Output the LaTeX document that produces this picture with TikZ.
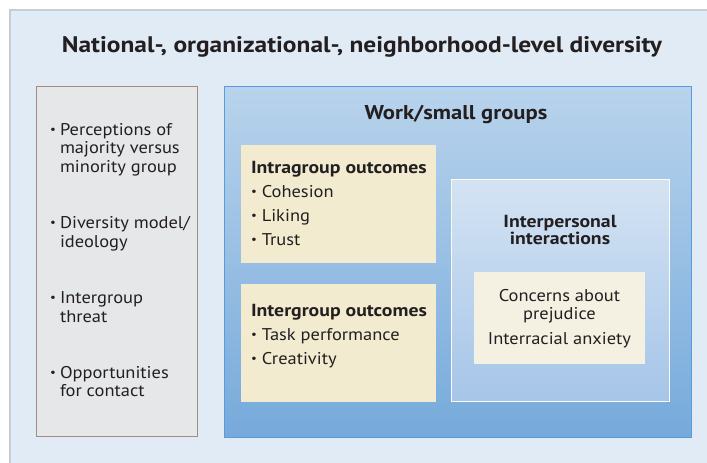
\documentclass[tikz,border=0pt]{standalone}
\usepackage{graphicx}
\usepackage{fontspec}
\setmainfont{PT Sans}[FakeStretch=1.085,BoldFeatures={FakeStretch=1.13}]
\newcommand\mybul{\raisebox{0.1em}{\scalebox{0.7}{•}}}
\definecolor{outerbg}{HTML}{E1EBF5}
\definecolor{outerline}{HTML}{C9CED3}
\definecolor{graybox}{HTML}{E6E7E9}
\definecolor{grayline}{HTML}{A38B80}
\definecolor{bluetop}{HTML}{B9D3EC}
\definecolor{bluebot}{HTML}{76AADB}
\definecolor{blueline}{HTML}{5B9BD9}
\definecolor{ipctop}{HTML}{D4E3F3}
\definecolor{ipcbot}{HTML}{A6C5E8}
\definecolor{cream}{HTML}{F2EBD0}
\definecolor{creamlight}{HTML}{F5F1E2}
\definecolor{txt}{HTML}{231F20}
\begin{document}
\begin{tikzpicture}[x=1pt,y=-1pt,
  txtnode/.style={inner sep=0pt,outer sep=0pt,text=txt,font=\fontsize{17}{20}\selectfont},
  headnode/.style={txtnode,font=\fontsize{17.5}{20}\selectfont\bfseries},
  bigtitle/.style={txtnode,font=\fontsize{22.5}{26}\selectfont\bfseries}]
\useasboundingbox (0,0) rectangle (707,463);
% outer background
\fill[outerbg] (10,10) rectangle (707,463);
\draw[outerline,line width=1.2pt] (10,463) -- (10,10) -- (707,10);
\node[bigtitle,anchor=base] (title) at (362,52) {National-, organizational-, neighborhood-level diversity};
% left gray box
\draw[grayline,fill=graybox,line width=1pt] (36,86) rectangle (197,436);
\node[txtnode,anchor=base west] (l1) at (50,135) {\mybul};
\node[txtnode,anchor=base west] (l1t) at (60,135) {Perceptions of};
\node[txtnode,anchor=base west] (l1b) at (60,153.5) {majority versus};
\node[txtnode,anchor=base west] (l1c) at (60,172) {minority group};
\node[txtnode,anchor=base west] (l2) at (50,228) {\mybul};
\node[txtnode,anchor=base west] (l2t) at (60,228) {Diversity model/};
\node[txtnode,anchor=base west] (l2b) at (60,247) {ideology};
\node[txtnode,anchor=base west] (l3) at (50,303) {\mybul};
\node[txtnode,anchor=base west] (l3t) at (60,303) {Intergroup};
\node[txtnode,anchor=base west] (l3b) at (60,322) {threat};
\node[txtnode,anchor=base west] (l4) at (50,378) {\mybul};
\node[txtnode,anchor=base west] (l4t) at (60,378) {Opportunities};
\node[txtnode,anchor=base west] (l4b) at (60,396) {for contact};
% blue work/small groups box
\shade[top color=bluetop,bottom color=bluebot] (224,86) rectangle (691,437);
\draw[blueline,line width=1pt] (224,86) rectangle (691,437);
\node[headnode,anchor=base,font=\fontsize{20}{24}\selectfont\bfseries] (wsg) at (456,119) {Work/small groups};
% intragroup box
\fill[cream] (241,145) rectangle (436,263);
\node[headnode,anchor=base west] (intra) at (251,173) {Intragroup outcomes};
\node[txtnode,anchor=base west] (i1) at (251,197) {\mybul\ Cohesion};
\node[txtnode,anchor=base west] (i2) at (251,221) {\mybul\ Liking};
\node[txtnode,anchor=base west] (i3) at (251,245) {\mybul\ Trust};
% intergroup box
\fill[cream] (241,284) rectangle (436,402);
\node[headnode,anchor=base west] (inter) at (251,316) {Intergroup outcomes};
\node[txtnode,anchor=base west] (g1) at (251,340) {\mybul\ Task performance};
\node[txtnode,anchor=base west] (g2) at (251,364) {\mybul\ Creativity};
% interpersonal box
\shade[top color=ipctop,bottom color=ipcbot] (451,179) rectangle (669,401);
\draw[white!85!ipctop,line width=1pt] (451,179) rectangle (669,401);
\node[headnode,anchor=base] (ip1) at (560,227) {Interpersonal};
\node[headnode,anchor=base] (ip2) at (560,244) {interactions};
\fill[creamlight] (474,272) rectangle (645,364);
\node[txtnode,anchor=base] (c1) at (559.5,301) {Concerns about};
\node[txtnode,anchor=base] (c2) at (559.5,319) {prejudice};
\node[txtnode,anchor=base] (c3) at (559.5,344) {Interracial anxiety};
\end{tikzpicture}
\end{document}
